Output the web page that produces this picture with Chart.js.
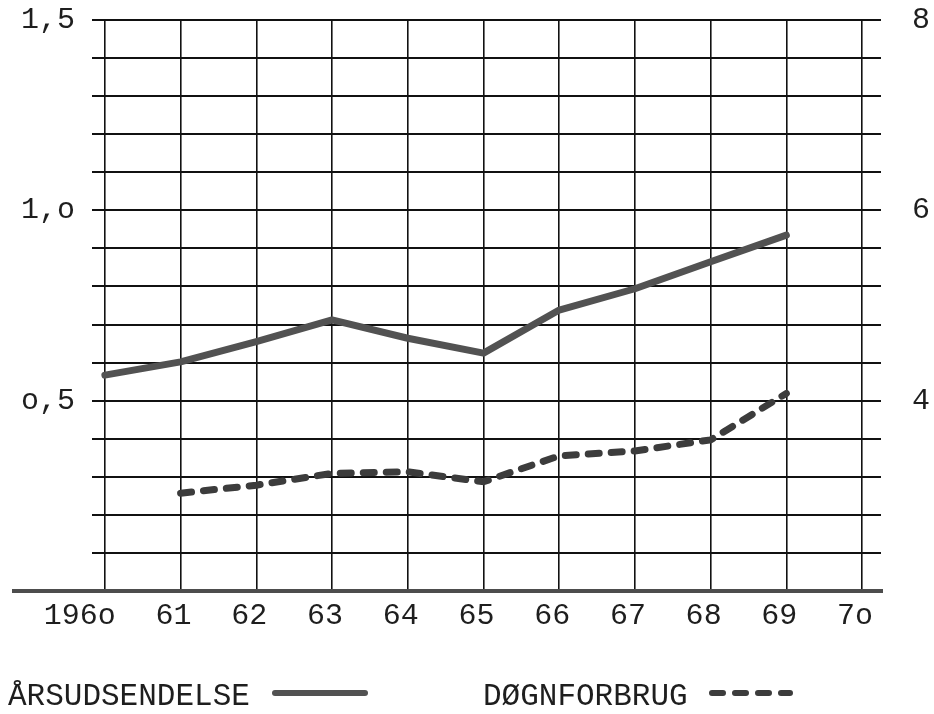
<!DOCTYPE html>
<html>
<head>
<meta charset="utf-8">
<script src="https://cdn.jsdelivr.net/npm/chart.js@4.4.1/dist/chart.umd.min.js"></script>
<style>
  html, body { margin: 0; padding: 0; background: #ffffff; }
  canvas { display: block; }
</style>
</head>
<body>
<canvas id="c" width="934" height="714"></canvas>
<script>
// ---- data ----
const years = [1960, 1961, 1962, 1963, 1964, 1965, 1966, 1967, 1968, 1969];
const aarsudsendelse = [0.567, 0.602, 0.655, 0.712, 0.664, 0.625, 0.738, 0.794, 0.865, 0.935];
const doegnforbrug = [null, 0.257, 0.278, 0.309, 0.313, 0.287, 0.355, 0.368, 0.397, 0.519];
const seriesNames = ['ÅRSUDSENDELSE', 'DØGNFORBRUG'];

const xTickValues = [1960, 1961, 1962, 1963, 1964, 1965, 1966, 1967, 1968, 1969, 1970];
const xTickLabels = ['196o', '61', '62', '63', '64', '65', '66', '67', '68', '69', '7o'];
const yGridValues = [0, 0.1, 0.2, 0.3, 0.4, 0.5, 0.6, 0.7, 0.8, 0.9, 1.0, 1.1, 1.2, 1.3, 1.4, 1.5];
const yLeftTickValues = [0.5, 1.0, 1.5];
const yLeftTickLabels = ['o,5', '1,o', '1,5'];
const yRightTickValues = [4, 6, 8];
const yRightTickLabels = ['4', '6', '8'];

const FONT = "'Liberation Mono', 'DejaVu Sans Mono', monospace";
const INK = '#1e1e1e';

function toPoints(vals) {
  return years.map((y, i) => ({ x: y, y: vals[i] }));
}

// custom plugin: heavy base line and legend below the axis
const decorations = {
  id: 'decorations',
  beforeDatasetsDraw(chart) {
    const ctx = chart.ctx;
    const y0 = chart.scales.y.getPixelForValue(0);
    ctx.save();
    ctx.strokeStyle = '#4d4d4d';
    ctx.lineWidth = 4;
    ctx.beginPath();
    ctx.moveTo(12, y0);
    ctx.lineTo(chart.chartArea.right + 2, y0);
    ctx.stroke();
    ctx.restore();
  },
  afterDraw(chart) {
    const ctx = chart.ctx;
    const items = [
      { textX: 8, lineX0: 275, lineX1: 365 },
      { textX: 483, lineX0: 712, lineX1: 790 }
    ];
    ctx.save();
    ctx.font = "31px " + FONT;
    ctx.fillStyle = INK;
    ctx.textBaseline = 'alphabetic';
    ctx.textAlign = 'left';
    chart.data.datasets.forEach((ds, i) => {
      const it = items[i];
      ctx.fillText(ds.label, it.textX, 705);
      ctx.strokeStyle = ds.borderColor;
      ctx.lineWidth = 6;
      ctx.lineCap = ds.borderCapStyle || 'butt';
      ctx.setLineDash(ds.borderDash || []);
      ctx.beginPath();
      ctx.moveTo(it.lineX0, 693);
      ctx.lineTo(it.lineX1, 693);
      ctx.stroke();
    });
    ctx.restore();
  }
};

function fixVertical(width) {
  return s => { s.width = width; s.paddingTop = 0; s.paddingBottom = 0; };
}

new Chart(document.getElementById('c'), {
  type: 'line',
  data: {
    datasets: [
      {
        label: seriesNames[0],
        data: toPoints(aarsudsendelse),
        borderColor: '#525252',
        borderWidth: 7,
        pointRadius: 0,
        tension: 0,
        borderCapStyle: 'round',
        borderJoinStyle: 'round',
        yAxisID: 'y'
      },
      {
        label: seriesNames[1],
        data: toPoints(doegnforbrug),
        borderColor: '#3c3c3c',
        borderWidth: 7,
        borderDash: [11, 12],
        borderCapStyle: 'round',
        pointRadius: 0,
        tension: 0,
        spanGaps: false,
        yAxisID: 'y'
      }
    ]
  },
  options: {
    responsive: false,
    animation: false,
    layout: { padding: { top: 20, bottom: 73, left: 0, right: 0 } },
    plugins: {
      legend: { display: false },
      tooltip: { enabled: false }
    },
    scales: {
      x: {
        type: 'linear',
        min: 1959.83,
        max: 1970.25,
        afterBuildTicks: s => { s.ticks = xTickValues.map(v => ({ value: v })); },
        afterFit: s => { s.height = 50; s.paddingLeft = 0; s.paddingRight = 0; },
        border: { display: false },
        grid: { color: '#111', lineWidth: 1.6, drawTicks: false },
        ticks: {
          autoSkip: false,
          maxRotation: 0,
          align: 'end',
          labelOffset: 11,
          padding: 7,
          color: INK,
          font: { family: FONT, size: 30 },
          callback: v => {
            const i = xTickValues.indexOf(Math.round(v));
            return i >= 0 ? xTickLabels[i] : '';
          }
        }
      },
      y: {
        type: 'linear',
        position: 'left',
        min: 0,
        max: 1.5,
        afterBuildTicks: s => { s.ticks = yGridValues.map(v => ({ value: v })); },
        afterFit: fixVertical(92),
        border: { display: false },
        grid: { color: '#111', lineWidth: 2, drawTicks: false },
        ticks: {
          autoSkip: false,
          padding: 17,
          color: INK,
          font: { family: FONT, size: 30 },
          callback: v => {
            const i = yLeftTickValues.findIndex(t => Math.abs(t - v) < 1e-6);
            return i >= 0 ? yLeftTickLabels[i] : '';
          }
        }
      },
      y2: {
        type: 'linear',
        position: 'right',
        min: 2,
        max: 8,
        afterBuildTicks: s => { s.ticks = yRightTickValues.map(v => ({ value: v })); },
        afterFit: fixVertical(53),
        border: { display: false },
        grid: { display: false, drawTicks: false },
        ticks: {
          autoSkip: false,
          padding: 31,
          color: INK,
          font: { family: FONT, size: 30 },
          callback: v => {
            const i = yRightTickValues.findIndex(t => Math.abs(t - v) < 1e-6);
            return i >= 0 ? yRightTickLabels[i] : '';
          }
        }
      }
    }
  },
  plugins: [decorations]
});
</script>
</body>
</html>
